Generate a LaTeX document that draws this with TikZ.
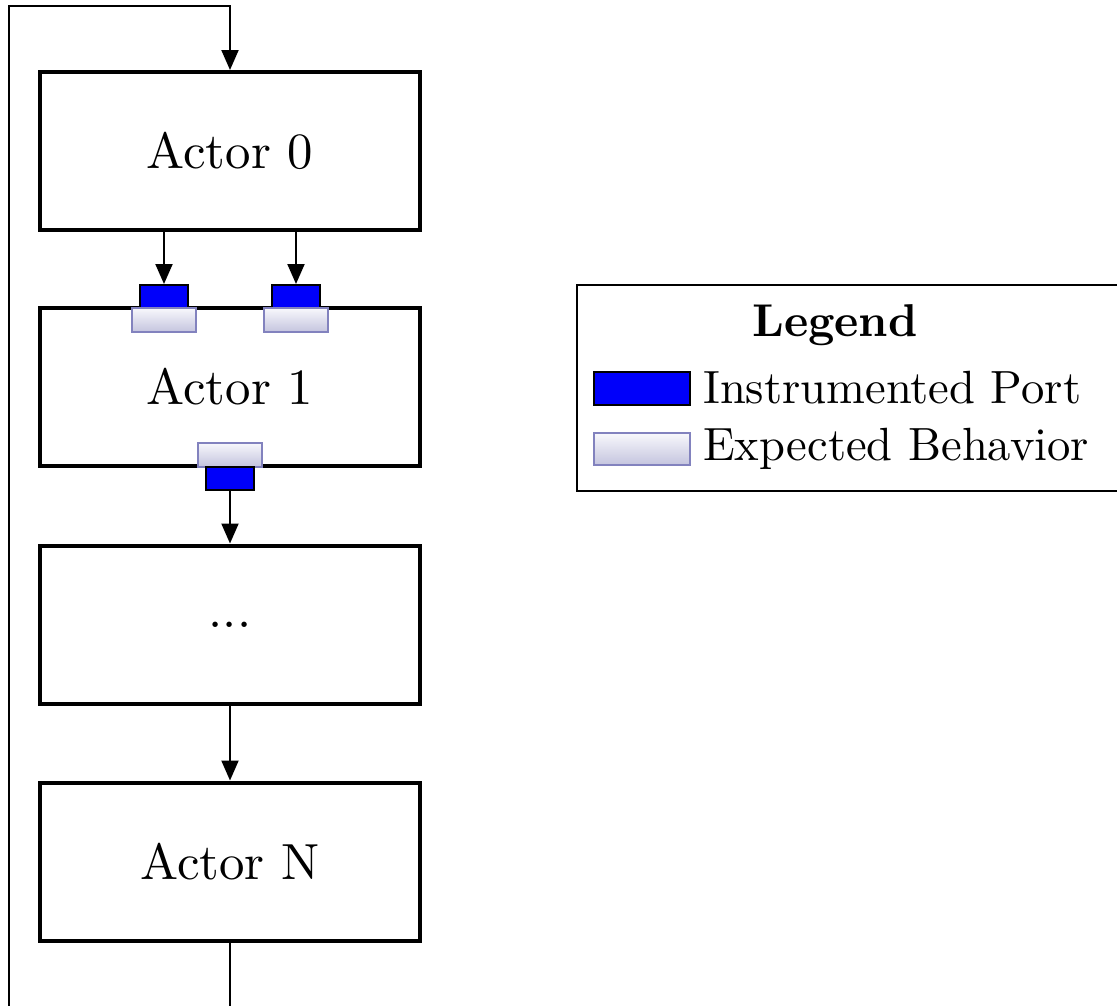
\documentclass[tikz,border=0pt]{standalone}
\usepackage{fontspec}
\usetikzlibrary{arrows.meta,calc}
\definecolor{portblue}{RGB}{0,0,250}
\definecolor{lavborder}{RGB}{130,130,190}
\definecolor{lavbottom}{RGB}{196,196,222}
\definecolor{lavtop}{RGB}{248,248,252}
% text set at design size 10pt, then enlarged
\newcommand{\bigtext}[2]{\scalebox{#1}{\fontsize{10}{12}\selectfont #2}}
\tikzset{
  actor/.style={draw, line width=4pt, minimum width=380pt, minimum height=158pt,
    inner sep=0pt},
  iport/.style={draw, fill=portblue, line width=2pt, minimum width=48pt,
    minimum height=23pt, inner sep=0pt},
  expect/.style={draw=lavborder, line width=2pt, top color=lavtop, bottom color=lavbottom,
    minimum width=64pt, minimum height=24pt, inner sep=0pt},
  flow/.style={line width=2pt, -{Triangle[length=20pt,width=17pt]}},
  loopline/.style={line width=2pt},
  legendtext/.style={anchor=west, inner sep=0pt},
}
\begin{document}
\begin{tikzpicture}[x=1pt, y=-1pt]
\useasboundingbox (0,0) rectangle (1117,1005);
\clip (0,0) rectangle (1117,1005);

% actors
\node[actor] (a0) at (230,151) {\bigtext{5.08}{Actor 0}};
\node[actor] (a1) at (230,387) {\bigtext{5.08}{Actor 1}};
\node[actor] (a2) at (230,624.5) {\bigtext{5.08}{...}};
\node[actor] (aN) at (230,861.5) {\bigtext{5.08}{Actor N}};

% ports on Actor 1
\node[iport] (p1) at (164,296.5) {};
\node[iport] (p2) at (296,296.5) {};
\node[expect] (e1) at (164,320) {};
\node[expect] (e2) at (296,320) {};
\node[expect] (e3) at (230,454.5) {};
\node[iport] (p3) at (230,478.5) {};

% connections
\draw[flow] (a0.south -| p1) -- (p1.north);
\draw[flow] (a0.south -| p2) -- (p2.north);
\draw[flow] (p3.south) -- (a2.north);
\draw[flow] (a2.south) -- (aN.north);

% feedback loop
\coordinate (loopB) at (9,1020);
\coordinate (loopT) at (9,6);
\draw[loopline] (aN.south) -- (aN.south |- loopB) -- (loopB) -- (loopT) -- (loopT -| a0.north);
\draw[flow] ($(loopT -| a0.north)+(0,-1)$) -- (a0.north);

% legend
\draw[line width=2pt] (577,285) rectangle (1130,491);
\node (ltitle) at (835,325) {\bigtext{4.6}{\bfseries Legend}};
\node[iport, minimum width=96pt, minimum height=33pt] (liport) at (642,388.5) {};
\node[expect, minimum width=96pt, minimum height=32pt] (lexpect) at (642,449) {};
\node[legendtext] (ltext1) at (703,388) {\bigtext{4.66}{Instrumented Port}};
\node[legendtext] (ltext2) at (703,449) {\bigtext{4.66}{Expected Behavior}};
\end{tikzpicture}
\end{document}
